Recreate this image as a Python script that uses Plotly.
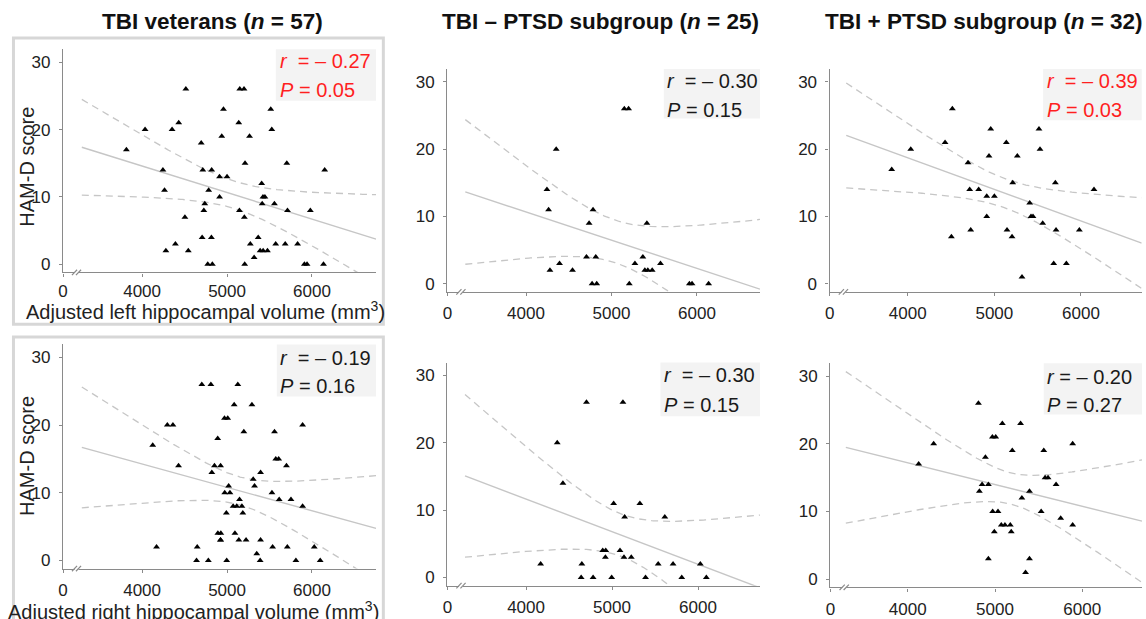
import numpy as np
import plotly.graph_objects as go

# ---------------- data ----------------
# Adjusted LEFT hippocampal volume (mm^3) and HAM-D score
left_vol_no_ptsd = [4245, 4264, 4280, 4353, 4392, 4544, 4707, 4738, 4784, 4773, 4816, 4827, 5150,
                    5200, 5208, 5274, 5367, 5414, 5390, 5425, 5476, 5573, 5911, 5942, 6136]
left_hamd_no_ptsd = [14, 11, 2, 20, 3, 2, 4, 9, 11, 0, 4, 0, 26, 26, 0, 3, 4, 9, 2, 2, 2, 3, 0, 0, 0]

left_vol_ptsd = [3815, 4035, 4431, 4515, 4504, 4696, 4715, 4819, 4727, 4912, 4912, 4938, 4958, 5000,
                 5138, 5146, 5204, 5212, 5265, 5319, 5408, 5423, 5446, 5515, 5527, 5558, 5704, 5712,
                 5685, 5831, 5981, 6150]
left_hamd_ptsd = [17, 20, 21, 26, 7, 18, 14, 14, 8, 13, 10, 19, 23, 13, 21, 8, 7, 15, 19, 1, 12, 10,
                  10, 23, 20, 9, 15, 8, 3, 3, 8, 14]

# Adjusted RIGHT hippocampal volume (mm^3) and HAM-D score
right_vol_no_ptsd = [4170, 4363, 4429, 4649, 4641, 4703, 4780, 4892, 4927, 4923, 4996, 5019, 5093,
                     5127, 5139, 5147, 5224, 5324, 5390, 5537, 5614, 5710, 5811, 6027, 6097]
right_hamd_no_ptsd = [2, 20, 14, 2, 0, 26, 0, 4, 4, 3, 0, 11, 4, 26, 3, 9, 3, 11, 0, 2, 9, 2, 0, 2, 0]

right_vol_ptsd = [4125, 4297, 4810, 4821, 4852, 4890, 4924, 4924, 4970, 5008, 4973, 5034, 4992, 5072,
                  5084, 5114, 5175, 5186, 5198, 5293, 5308, 5350, 5395, 5395, 5529, 5559, 5574, 5608,
                  5700, 5753, 5890, 5890]
right_hamd_ptsd = [17, 20, 26, 13, 14, 18, 14, 3, 21, 21, 10, 10, 7, 8, 23, 8, 8, 7, 19, 23, 12, 1, 3,
                   13, 10, 19, 15, 15, 14, 9, 8, 20]

titles = ["TBI veterans", "TBI \u2013 PTSD subgroup", "TBI + PTSD subgroup"]
group_n = [57, 25, 32]
stat_r = ["\u2013 0.27", "\u2013 0.30", "\u2013 0.39", "\u2013 0.19", "\u2013 0.30", "\u2013 0.20"]
stat_p = ["0.05", "0.15", "0.03", "0.16", "0.15", "0.27"]
stat_significant = [True, False, True, False, False, False]
x_tick_vals = [4000, 5000, 6000]
y_tick_vals = [0, 10, 20, 30]

# 97.5% Student t quantiles by degrees of freedom
T975 = {23: 2.069, 30: 2.042, 55: 2.004}

# ---------------- layout geometry (pixels) ----------------
W, H = 1146, 619
panels = [
    dict(x=left_vol_no_ptsd + left_vol_ptsd, y=left_hamd_no_ptsd + left_hamd_ptsd,
         xd=(58.3, 372.7), yd=(50, 276), xr=(3069, 6755), so=0,
         box=(272, 372.7, 50, 102), txt=(274, 62.3, 91), rsp=2),
    dict(x=left_vol_no_ptsd, y=left_hamd_no_ptsd,
         xd=(444.3, 758.3), yd=(70, 295.7), xr=(3080, 6737), so=3,
         box=(661.7, 758.3, 70, 120), txt=(662.7, 82.3, 111), rsp=2),
    dict(x=left_vol_ptsd, y=left_hamd_ptsd,
         xd=(828.3, 1141.7), yd=(70, 295.7), xr=(3099, 6701), so=3,
         box=(1042.7, 1141.7, 70, 121.7), txt=(1045, 82.3, 111), rsp=2),
    dict(x=right_vol_no_ptsd + right_vol_ptsd, y=right_hamd_no_ptsd + right_hamd_ptsd,
         xd=(58.3, 372.7), yd=(349, 576), xr=(3069, 6755), so=3,
         box=(273, 372.7, 349, 401.7), txt=(274, 362.3, 391), rsp=2),
    dict(x=right_vol_no_ptsd, y=right_hamd_no_ptsd,
         xd=(444.3, 758.3), yd=(367.3, 593.3), xr=(3085, 6721), so=3,
         box=(658.3, 758.3, 367.3, 421.7), txt=(660, 380, 410), rsp=2),
    dict(x=right_vol_ptsd, y=right_hamd_ptsd,
         xd=(829, 1142), yd=(368, 595), xr=(3113, 6685), so=3,
         box=(1043.3, 1142, 368, 420), txt=(1045, 382.3, 410), rsp=1),
]
Y_RANGE = [-1.2, 31.9]
FIT_X0 = 3290

AXIS_COL = "#8a8a8a"
FIT_COL = "#c6c6c6"
FONT = "Arial, Liberation Sans, Helvetica, sans-serif"


def px(xp):
    return xp / W


def py(yp):
    return 1 - yp / H


def fit_ci(x, y, xs):
    x = np.asarray(x, float)
    y = np.asarray(y, float)
    n = len(x)
    b, a = np.polyfit(x, y, 1)
    resid = y - (a + b * x)
    s = np.sqrt(np.sum(resid ** 2) / (n - 2))
    xm = x.mean()
    sxx = np.sum((x - xm) ** 2)
    half = T975[n - 2] * s * np.sqrt(1.0 / n + (xs - xm) ** 2 / sxx)
    yhat = a + b * xs
    return yhat, yhat + half, yhat - half


fig = go.Figure()
shapes = []
annotations = []

for i, p in enumerate(panels, start=1):
    xs_name = "x" if i == 1 else f"x{i}"
    ys_name = "y" if i == 1 else f"y{i}"
    xs = np.linspace(FIT_X0, p["xr"][1], 200)
    yhat, up, lo = fit_ci(p["x"], p["y"], xs)

    for curve in (up, lo):
        fig.add_trace(go.Scatter(x=xs, y=curve, mode="lines", xaxis=xs_name, yaxis=ys_name,
                                 line=dict(color=FIT_COL, width=1.3, dash="7px,5px"),
                                 hoverinfo="skip"))
    fig.add_trace(go.Scatter(x=xs, y=yhat, mode="lines", xaxis=xs_name, yaxis=ys_name,
                             line=dict(color=FIT_COL, width=1.4), hoverinfo="skip"))
    fig.add_trace(go.Scatter(x=p["x"], y=p["y"], mode="markers", xaxis=xs_name, yaxis=ys_name,
                             marker=dict(symbol="triangle-up", size=6, color="black",
                                         line=dict(width=0))))

    xa = dict(domain=[px(p["xd"][0]), px(p["xd"][1])], range=list(p["xr"]),
              tickvals=[p["xr"][0]] + x_tick_vals,
              ticktext=["0"] + [str(v) for v in x_tick_vals],
              showline=True, linecolor=AXIS_COL, linewidth=1.4, ticks="outside", ticklen=3,
              tickcolor=AXIS_COL, tickwidth=1.2, showgrid=False, zeroline=False,
              ticklabelstandoff=p["so"],
              anchor=ys_name, tickfont=dict(size=17, color="#222222", family=FONT))
    ya = dict(domain=[py(p["yd"][1]), py(p["yd"][0])], range=Y_RANGE, tickvals=y_tick_vals,
              showline=True, linecolor=AXIS_COL, linewidth=1.4, ticks="outside", ticklen=3,
              tickcolor=AXIS_COL, tickwidth=1.2, showgrid=False, zeroline=False,
              ticklabelstandoff=5,
              anchor=xs_name, tickfont=dict(size=17, color="#222222", family=FONT))
    fig.layout["xaxis" if i == 1 else f"xaxis{i}"] = xa
    fig.layout["yaxis" if i == 1 else f"yaxis{i}"] = ya

    # axis break marks "//"
    x0 = p["xr"][0]
    shapes.append(dict(type="line", xref=xs_name, yref=f"{ys_name} domain",
                       x0=x0 + 136, x1=x0 + 182, y0=0, y1=0,
                       line=dict(color="white", width=3), layer="above"))
    for off in (105, 152):
        shapes.append(dict(type="line", xref=xs_name, yref=f"{ys_name} domain",
                           x0=x0 + off, x1=x0 + off + 60, y0=-0.012, y1=0.012,
                           line=dict(color=AXIS_COL, width=1.2), layer="above"))

    # statistics box
    bx0, bx1, by0, by1 = p["box"]
    shapes.append(dict(type="rect", xref="paper", yref="paper",
                       x0=px(bx0), x1=px(bx1), y0=py(by1), y1=py(by0),
                       fillcolor="#f3f3f3", line=dict(width=0), layer="below"))
    col = "#ff1f1f" if stat_significant[i - 1] else "#1a1a1a"
    tx, ry, pyy = p["txt"]
    sp = "\u00a0" * p["rsp"]
    annotations.append(dict(xref="paper", yref="paper", x=px(tx), y=py(ry), xanchor="left",
                            yanchor="middle", showarrow=False,
                            text=f"<i>r</i>{sp}= {stat_r[i - 1]}",
                            font=dict(size=20, color=col, family=FONT)))
    annotations.append(dict(xref="paper", yref="paper", x=px(tx), y=py(pyy), xanchor="left",
                            yanchor="middle", showarrow=False,
                            text=f"<i>P</i> = {stat_p[i - 1]}",
                            font=dict(size=20, color=col, family=FONT)))

# column titles
for t, n, cx in zip(titles, group_n, [208, 598, 983]):
    annotations.append(dict(xref="paper", yref="paper", x=px(cx), y=py(22), xanchor="center",
                            yanchor="middle", showarrow=False,
                            text=f"<b>{t} (<i>n</i> = {n})</b>",
                            font=dict(size=22.5, color="#111111", family=FONT)))

# axis titles (left column only)
for label, cx, cy in [("Adjusted left hippocampal volume (mm<sup>3</sup>)", 201.7, 314.5),
                      ("Adjusted right hippocampal volume (mm<sup>3</sup>)", 189, 618)]:
    annotations.append(dict(xref="paper", yref="paper", x=px(cx), y=py(cy), xanchor="center",
                            yanchor="middle", showarrow=False, text=label,
                            font=dict(size=20, color="#222222", family=FONT)))
for cy in (169, 462):
    annotations.append(dict(xref="paper", yref="paper", x=px(22), y=py(cy), xanchor="center",
                            yanchor="middle", showarrow=False, text="HAM-D score", textangle=-90,
                            font=dict(size=20, color="#222222", family=FONT)))

# light grey frames around the left column panels
FRAME_COL = "#d7d7d7"
shapes.append(dict(type="rect", xref="paper", yref="paper", x0=px(8.5), x1=px(380),
                   y0=py(328.5), y1=py(38.5), line=dict(color=FRAME_COL, width=3),
                   fillcolor="rgba(0,0,0,0)", layer="below"))
shapes.append(dict(type="rect", xref="paper", yref="paper", x0=px(8.5), x1=px(380),
                   y0=py(660), y1=py(341.5), line=dict(color=FRAME_COL, width=3),
                   fillcolor="rgba(0,0,0,0)", layer="below"))

fig.update_layout(width=W, height=H, margin=dict(l=0, r=0, t=0, b=0),
                  paper_bgcolor="white", plot_bgcolor="white", showlegend=False,
                  font=dict(family=FONT, color="#222222"),
                  shapes=shapes, annotations=annotations)

fig.write_html("out.html", config={"displayModeBar": False},
               post_script="document.body.style.margin='0';document.body.style.overflow='hidden';")
